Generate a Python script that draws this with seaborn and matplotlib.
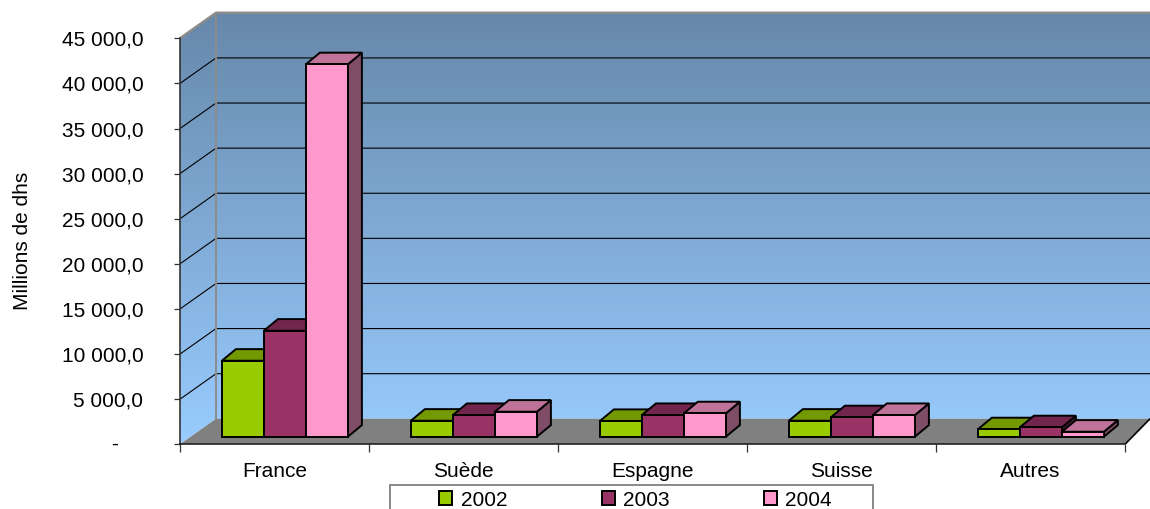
import numpy as np
import pandas as pd
import matplotlib
matplotlib.use("Agg")
import matplotlib.pyplot as plt
from matplotlib.patches import Polygon, Rectangle, Patch
from matplotlib.colors import to_rgb
import seaborn as sns

# ---- data -------------------------------------------------------------
countries = ["France", "Suède", "Espagne", "Suisse", "Autres"]
years = ["2002", "2003", "2004"]
values_2002 = [8420, 1770, 1740, 1770, 820]
values_2003 = [11750, 2400, 2400, 2150, 1040]
values_2004 = [41280, 2770, 2590, 2400, 550]
y_ticks = [0, 5000, 10000, 15000, 20000, 25000, 30000, 35000, 40000, 45000]
y_tick_labels = ["-", "5 000,0", "10 000,0", "15 000,0", "20 000,0",
                 "25 000,0", "30 000,0", "35 000,0", "40 000,0", "45 000,0"]
y_title = "Millions de dhs"
year_colors = ["#99CC00", "#993366", "#FF99CC"]

df = pd.DataFrame({
    "pays": countries * 3,
    "annee": np.repeat(years, len(countries)),
    "valeur": values_2002 + values_2003 + values_2004,
})

# ---- style ------------------------------------------------------------
sns.set_style("white")
plt.rcParams["font.family"] = ["Liberation Sans", "DejaVu Sans"]
plt.rcParams["text.color"] = "black"
FS = 15

W, H = 1150, 509
fig = plt.figure(figsize=(W / 100, H / 100), dpi=100)
# axes: left edge at the front wall corner, bottom at the floor's front edge
ax = fig.add_axes([180 / W, (H - 444.3) / H, 970 / W, 444.3 / H])

# oblique projection constants (data units per pixel)
PX_X = 1 / 189.0
PX_Y = 1000 / 9.022
DX, DY = 36 * PX_X, 25.5 * PX_Y      # full depth of the plot box
FX, FY = 10.4 * PX_X, 7.6 * PX_Y     # front face offset of the columns
BX, BY = 14 * PX_X, 11.6 * PX_Y      # depth of a column

x_left = -0.5
x_back = x_left + DX
x_end = len(countries) - 0.5
x_lim_right = x_left + 970 * PX_X
y_lim_top = 444.3 * PX_Y
wall_top = y_ticks[-1]

# ---- walls with vertical gradient ------------------------------------
top_c = np.array(to_rgb("#6688AA"))
bot_c = np.array(to_rgb("#99CCFF"))
t = np.linspace(0, 1, 256)[:, None, None]
grad = bot_c[None, None, :] * (1 - t) + top_c[None, None, :] * t
img = ax.imshow(grad, extent=[x_left, x_lim_right + 1, 0, wall_top + DY],
                origin="lower", aspect="auto", interpolation="bilinear", zorder=0)
wall_shape = Polygon([(x_left, 0), (x_left, wall_top), (x_back, wall_top + DY),
                      (x_lim_right + 1, wall_top + DY), (x_lim_right + 1, DY),
                      (x_back, DY)], closed=True, transform=ax.transData,
                     facecolor="none", edgecolor="none")
img.set_clip_path(wall_shape)

# gridlines on side and back walls
for v in y_ticks[1:-1]:
    ax.plot([x_left, x_back, x_lim_right + 1], [v, v + DY, v + DY],
            color="black", lw=0.8, zorder=1)
# wall borders
ax.plot([x_left, x_back, x_lim_right + 1], [wall_top, wall_top + DY, wall_top + DY],
        color="#8C8C8C", lw=1.8, zorder=1.5, solid_capstyle="butt")
ax.plot([x_back, x_back], [DY, wall_top + DY], color="#8C8C8C", lw=1.4, zorder=1.5)

# floor
floor = Polygon([(x_left, 0), (x_end, 0), (x_lim_right, DY), (x_back, DY)],
                closed=True, facecolor="#808080", edgecolor="none", zorder=2)
ax.add_patch(floor)
ax.plot([x_end, x_lim_right], [0, DY], color="black", lw=1.2, zorder=2.5)

# ---- columns ----------------------------------------------------------
n_before = len(ax.patches)
sns.barplot(data=df, x="pays", y="valeur", hue="annee", order=countries,
            hue_order=years, palette=year_colors, saturation=1,
            width=126 / 189, gap=0, dodge=True, errorbar=None,
            edgecolor="black", linewidth=1.4, legend=False, ax=ax)
bars = [p for p in ax.patches[n_before:] if isinstance(p, Rectangle)]
bars.sort(key=lambda p: p.get_x())

for i, p in enumerate(bars):
    x0 = p.get_x() + FX
    w = p.get_width()
    h = p.get_height()
    p.set_x(x0)
    p.set_y(FY)
    base = np.array(p.get_facecolor()[:3])
    z = 3 + 3 * i
    side = Polygon([(x0 + w, FY), (x0 + w + BX, FY + BY),
                    (x0 + w + BX, FY + h + BY), (x0 + w, FY + h)], closed=True,
                   facecolor=base * 0.5, edgecolor="black", lw=1.4,
                   joinstyle="miter", zorder=z)
    top = Polygon([(x0, FY + h), (x0 + w, FY + h), (x0 + w + BX, FY + h + BY),
                   (x0 + BX, FY + h + BY)], closed=True,
                  facecolor=base * 0.75, edgecolor="black", lw=1.4,
                  joinstyle="miter", zorder=z + 1)
    ax.add_patch(side)
    ax.add_patch(top)
    p.set_zorder(z + 2)
    p.set_joinstyle("miter")

# ---- axes -------------------------------------------------------------
ax.set_xlim(x_left, x_lim_right)
ax.set_ylim(0, y_lim_top)
for s in ("top", "right"):
    ax.spines[s].set_visible(False)
ax.spines["left"].set_bounds(0, wall_top)
ax.spines["left"].set_color("#333333")
ax.spines["left"].set_linewidth(1.2)
ax.spines["bottom"].set_bounds(x_left, x_end)
ax.spines["bottom"].set_color("#222222")
ax.spines["bottom"].set_linewidth(1.2)

ax.set_yticks(y_ticks, labels=[""] + y_tick_labels[1:])
ax.tick_params(axis="y", left=True, length=4.3, width=0.9, color="#333333",
               pad=22, labelsize=FS, labelcolor="black")
ax.text(-61.7 / 970, 0, y_tick_labels[0], transform=ax.get_yaxis_transform(),
        ha="right", va="center", fontsize=FS, color="black")

ax.set_xticks(np.arange(x_left, x_end + 0.01, 1.0), labels=[""] * 6)
ax.set_xticks(np.arange(len(countries)), labels=countries, minor=True)
ax.tick_params(axis="x", which="major", bottom=True, length=5.8, width=0.9,
               color="#333333")
ax.tick_params(axis="x", which="minor", bottom=True, length=0, pad=12.5,
               labelsize=FS, labelcolor="black")
ax.set_xlabel("")
ax.set_ylabel(y_title, fontsize=FS, color="black")
ax.yaxis.set_label_coords((32 - 180) / 970, (444.3 - 241) / 444.3)

# ---- legend -----------------------------------------------------------
frame = Rectangle((390 / W, -0.05), (873.3 - 390) / W, (H - 485) / H + 0.05,
                  transform=fig.transFigure, facecolor="white",
                  edgecolor="#808080", lw=1.3, zorder=1)
fig.add_artist(frame)
handles = [Patch(facecolor=c, edgecolor="black", linewidth=1.4) for c in year_colors]
leg = fig.legend(handles, years, ncol=3, loc="center left",
                 bbox_to_anchor=(439.3 / W, (H - 500) / H), frameon=False,
                 fontsize=FS, handlelength=0.62, handleheight=0.62,
                 handletextpad=0.4, columnspacing=4.54, borderpad=0,
                 borderaxespad=0)
leg.set_zorder(5)

fig.savefig("out.png", dpi=100)
